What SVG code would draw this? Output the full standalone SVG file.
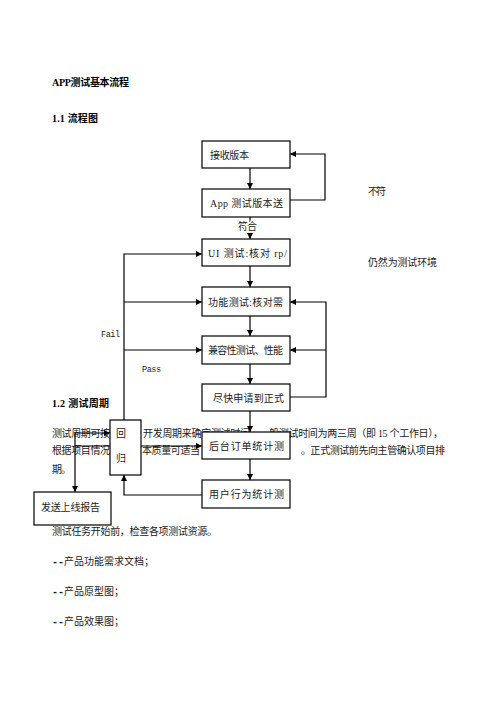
<svg xmlns="http://www.w3.org/2000/svg" width="496" height="702" viewBox="0 0 496 702">
<style>
  .t{font-family:"Liberation Serif","Noto Sans CJK SC",serif;font-size:10px;fill:#1a1a1a}
  .b{font-weight:bold;fill:#000}
  .d{font-family:"Liberation Mono",monospace;font-weight:bold}
  .m{font-family:"Liberation Mono","Noto Sans CJK SC",monospace;font-size:8.5px;fill:#1a1a1a}
  .box{fill:#fff;stroke:#000;stroke-width:1.2}
  .lbl{font-family:"Liberation Serif","Noto Sans CJK SC",serif;font-size:10px;fill:#1a1a1a}
  .c{fill:none;stroke:#000;stroke-width:1.2}
  .halo{paint-order:stroke;stroke:#fff;stroke-width:3px}
</style>
<defs>
  <marker id="ah" markerUnits="userSpaceOnUse" markerWidth="7" markerHeight="7" refX="6" refY="3" orient="auto">
    <path d="M0,0 L6,3 L0,6 z" fill="#000"/>
  </marker>
</defs>
<rect width="496" height="702" fill="#fff"/>

<g id="text">
  <text class="t b" x="52" y="86" textLength="77">APP测试基本流程</text>
  <text class="t b" x="52" y="122" textLength="46">1.1 流程图</text>
  <text class="t b" x="52" y="407" textLength="57">1.2 测试周期</text>
  <text class="t" x="52" y="437" textLength="58">测试周期可按</text>
  <text class="t" x="143" y="437" textLength="300">开发周期来确定测试时间，一般测试时间为两三周（即 15 个工作日），</text>
  <text class="t" x="52" y="454" textLength="58">根据项目情况</text>
  <text class="t" x="142" y="454" textLength="58">本质量可适当</text>
  <text class="t" x="301" y="454" textLength="144">。正式测试前先向主管确认项目排</text>
  <text class="t" x="52" y="473" textLength="19">期。</text>
  <text class="t" x="52" y="535" textLength="165">测试任务开始前，检查各项测试资源。</text>
  <text class="t" x="52" y="565"><tspan class="d">--</tspan>产品功能需求文档；</text>
  <text class="t" x="52" y="595"><tspan class="d">--</tspan>产品原型图；</text>
  <text class="t" x="52" y="625"><tspan class="d">--</tspan>产品效果图；</text>
  <text class="t" x="368" y="195" textLength="18">不符</text>
  <text class="t" x="368" y="266" textLength="69">仍然为测试环境</text>
  <text class="m" x="101" y="337" textLength="19">Fail</text>
  <text class="m" x="142" y="372" textLength="19">Pass</text>
</g>

<g id="connectors">
  <path class="c" d="M250,168 V189" marker-end="url(#ah)"/>
  <path class="c" d="M290,200 H325 V154 H290" marker-end="url(#ah)"/>
  <path class="c" d="M250,217 V239" marker-end="url(#ah)"/>
  <path class="c" d="M250,266 V287" marker-end="url(#ah)"/>
  <path class="c" d="M250,316 V336" marker-end="url(#ah)"/>
  <path class="c" d="M250,364 V384" marker-end="url(#ah)"/>
  <path class="c" d="M250,411 V432" marker-end="url(#ah)"/>
  <path class="c" d="M250,459 V480" marker-end="url(#ah)"/>
  <path class="c" d="M290,397 H326 V302 H290" marker-end="url(#ah)"/>
  <path class="c" d="M326,350 H290" marker-end="url(#ah)"/>
  <path class="c" d="M124,420 V254 H202" marker-end="url(#ah)"/>
  <path class="c" d="M124,302 H202" marker-end="url(#ah)"/>
  <path class="c" d="M124,350 H202" marker-end="url(#ah)"/>
  <path class="c" d="M141,446 H202" marker-end="url(#ah)"/>
  <path class="c" d="M202,495 H124 V475" marker-end="url(#ah)"/>
  <path class="c" d="M75,433 H110" marker-end="url(#ah)"/>
  <path class="c" d="M110,446 H75 V433 M75,446 V492" marker-end="url(#ah)"/>
  <text class="t halo" x="238" y="230" textLength="19">符合</text>
</g>

<g id="n1"><rect class="box" x="202" y="141" width="88" height="27"/><text class="lbl" x="210" y="159" textLength="39">接收版本</text></g>
<g id="n2"><rect class="box" x="202" y="189" width="88" height="28"/><text class="lbl" x="210" y="207" textLength="73">App 测试版本送</text></g>
<g id="n3"><rect class="box" x="202" y="239" width="88" height="27"/><text class="lbl" x="208" y="257" textLength="79">UI 测试:核对 rp/</text></g>
<g id="n4"><rect class="box" x="202" y="287" width="88" height="29"/><text class="lbl" x="208" y="306" textLength="75">功能测试:核对需</text></g>
<g id="n5"><rect class="box" x="202" y="336" width="88" height="28"/><text class="lbl" x="208" y="354" textLength="75">兼容性测试、性能</text></g>
<g id="n6"><rect class="box" x="202" y="384" width="88" height="27"/><text class="lbl" x="213" y="402" textLength="71">尽快申请到正式</text></g>
<g id="n7"><rect class="box" x="202" y="432" width="88" height="27"/><text class="lbl" x="209" y="450" textLength="75">后台订单统计测</text></g>
<g id="n8"><rect class="box" x="202" y="480" width="88" height="28"/><text class="lbl" x="209" y="498" textLength="75">用户行为统计测</text></g>
<g id="n9"><rect class="box" x="110" y="420" width="31" height="55"/><text class="lbl" x="116" y="437">回</text><text class="lbl" x="116" y="462">归</text></g>
<g id="n10"><rect class="box" x="34" y="492" width="77" height="33"/><text class="lbl" x="41" y="511" textLength="59">发送上线报告</text></g>
</svg>
